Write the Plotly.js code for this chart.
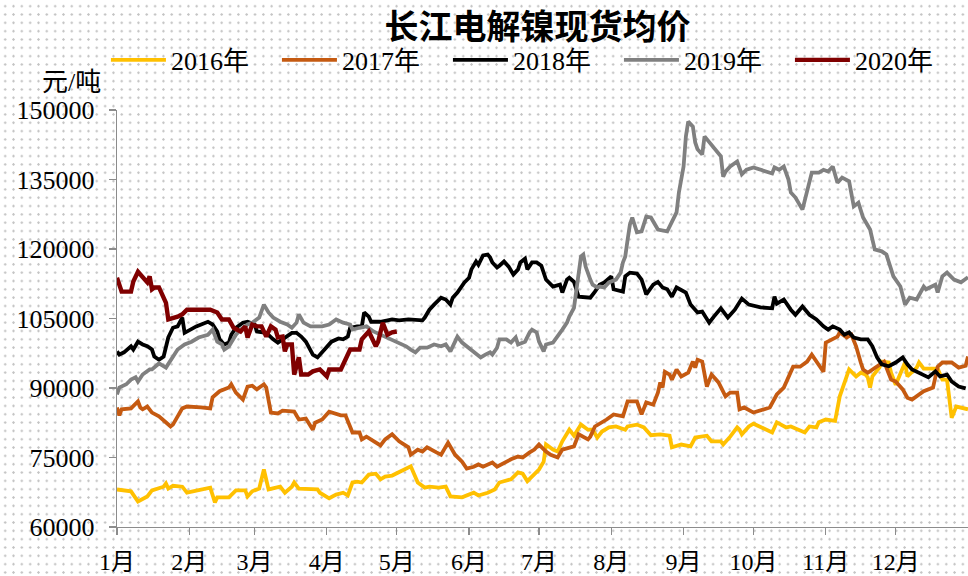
<!DOCTYPE html>
<html>
<head>
<meta charset="utf-8">
<script src="https://cdn.plot.ly/plotly-3.0.1.min.js"></script>
<style>
html,body{margin:0;padding:0;background:#fff;}
#chart{width:968px;height:576px;background-color:#fff;
  background-image:radial-gradient(circle, #c4c4c4 0.9px, rgba(255,255,255,0) 1.4px);
  background-size:8.33px 8.33px;background-position:1px 2px;}
</style>
</head>
<body>
<div id="chart"></div>
<script>
// ---- data (x = day of year, y = 元/吨) ----
const monthLabels = ['1月','2月','3月','4月','5月','6月','7月','8月','9月','10月','11月','12月'];
const monthStartDays = [0,31,59,90,120,151,181,212,243,273,304,334];
const yTicks = [60000,75000,90000,105000,120000,135000,150000];
const seriesNames = ['2016年','2017年','2018年','2019年','2020年'];

const days2016 = [0,5,6,9,13,15,20,21,22,24,28,30,40,42,43,48,51,55,56,58,61,63,65,70,72,75,76,78,83,86,87,91,94,97,99,101,103,105,108,111,113,115,118,126,129,132,134,138,141,143,148,153,155,159,162,164,169,172,174,176,181,183,184,185,187,189,191,194,196,199,202,204,206,208,211,214,218,219,223,226,229,233,237,238,242,246,248,253,255,259,260,263,266,267,268,271,273,281,283,287,289,295,297,300,301,304,308,310,314,317,319,321,322,323,324,327,328,331,332,334,337,338,339,343,344,346,352,354,356,358,360,363,365];
const price2016 = [68100,67700,67700,65500,66600,67900,68700,69400,68300,68900,68700,67400,68500,65300,66400,66400,67900,67900,66600,67700,68300,72400,68100,68700,67400,68700,69600,68300,68300,68100,67400,66200,67000,67400,66800,69600,69800,69600,71300,71500,70300,70900,71100,73100,69600,68500,68700,68500,68700,66600,66400,67400,66800,67400,68100,69600,70300,71800,71500,69900,72400,74100,77800,77400,76700,76300,78500,81000,79700,82100,81000,81000,79300,80600,81500,81700,81000,81700,82100,81500,79800,80000,79700,77200,77800,77400,79300,79700,78500,78500,77800,79500,81500,81000,80000,81700,82300,80400,82600,81500,81700,80400,81700,81500,82600,83200,82900,88200,94000,92500,93300,92900,92300,90100,92500,94400,95700,95500,93300,90700,94000,95500,92500,94400,95500,94200,94200,91800,91800,83600,86000,85600,85400];

const days2017 = [0,1,2,6,9,10,11,13,15,18,23,24,28,30,36,40,41,44,48,49,51,54,56,58,60,63,64,66,69,71,76,78,81,84,85,88,91,96,98,101,104,105,107,110,113,115,118,121,125,126,129,131,133,137,139,142,145,148,150,153,155,157,161,163,166,169,172,174,177,179,181,184,186,189,191,196,198,202,203,205,210,213,217,219,223,225,227,230,232,233,234,235,237,238,240,242,245,247,248,249,251,253,255,258,261,263,266,267,269,273,280,283,286,290,293,296,298,301,303,304,309,310,313,315,317,319,320,322,326,329,332,334,337,339,341,346,350,352,354,358,361,364,365];
const price2017 = [85800,84100,85400,85600,87100,85800,85400,86000,84700,83900,81700,82100,85600,86000,85800,85600,88000,89300,90100,90800,89000,87500,90300,90500,89700,90800,90100,84700,84500,85100,84900,83200,83400,81000,82500,83200,84900,84100,84100,80400,80400,78900,79500,78500,77600,78900,80000,78500,77200,75600,76700,76300,77200,76100,75600,78200,75600,74100,72600,73000,73500,73000,73900,73000,73900,74600,75200,75000,76100,76700,77800,76300,75600,75000,76700,77400,80000,78900,79500,81700,83200,84300,83900,87100,87100,84300,86900,86400,89000,91200,90100,93500,92900,91800,94000,92500,93300,95700,94400,96100,95700,90300,92900,91200,88200,89000,89000,85400,85800,84700,85800,88600,90100,94600,94600,95700,97200,95000,93500,99800,101100,102000,100900,101500,99000,95500,94000,93300,94600,95700,91800,91400,89700,87900,87500,89300,90100,94600,95500,95500,94400,94800,96800];

const days2018 = [0,1,3,6,7,9,11,13,15,16,18,20,22,24,26,28,29,30,34,39,41,43,44,46,48,49,51,54,56,59,60,64,66,67,69,71,75,77,79,81,83,84,86,88,90,92,95,97,99,100,103,105,106,108,109,113,118,121,125,129,131,132,134,136,139,141,143,144,146,149,151,152,154,155,157,159,160,161,163,164,166,168,170,172,173,175,176,178,180,182,184,187,190,191,193,194,196,198,201,203,205,207,209,212,213,217,218,220,223,225,227,230,232,234,236,238,240,244,246,247,249,251,254,256,259,262,265,268,271,276,281,282,283,286,289,291,294,297,300,303,305,307,310,312,314,316,319,322,324,326,328,331,334,337,339,341,345,348,351,353,356,358,361,364];
const price2018 = [97900,97200,97700,99000,98300,100000,99400,99000,98300,96800,96100,96800,100900,103000,103300,105200,101900,102200,103300,104300,103700,102200,100500,99400,99800,101500,103000,104100,104300,103700,102200,101900,100900,100500,99800,100500,101900,101900,101100,100000,98300,97200,96600,97700,99000,100000,100700,100500,101100,103000,103300,103300,106300,105400,104300,104300,104800,104600,104800,104800,104600,105200,106900,108000,109500,109100,108000,109500,110600,112800,113800,115600,117300,116600,118600,118800,118200,117100,116000,116400,117300,116200,114500,115600,117100,117900,115600,117100,117100,116400,113400,111900,112300,110600,113400,113800,112900,109700,109700,109500,110800,112300,112800,114100,111300,110800,114100,114900,114700,113400,110200,112300,112900,111700,111300,109700,111700,110600,108000,107400,106300,106500,104100,105400,107200,105200,106900,109300,108000,107400,107200,109700,108200,109100,106900,105800,107600,105800,104800,103300,102600,103300,102600,101500,102000,100900,100500,100500,99000,96600,95100,94700,95500,96600,95100,94000,92900,92300,93600,92500,92900,91400,90300,89900];

const days2019 = [0,1,4,6,8,9,11,14,15,18,21,24,26,29,32,35,39,41,43,45,46,48,51,53,56,58,61,63,65,67,70,73,75,77,78,80,83,88,91,94,97,100,101,104,107,110,113,116,118,121,124,126,128,130,133,136,139,141,143,145,146,148,150,153,156,158,160,161,163,164,167,169,171,172,175,177,178,180,181,183,184,187,189,191,193,194,196,197,199,200,201,203,204,206,207,209,211,214,216,217,218,219,220,221,223,225,227,229,232,236,238,240,241,243,244,245,247,248,249,251,252,254,256,259,260,261,263,266,268,270,273,276,281,282,284,286,288,289,291,294,296,298,301,303,305,307,309,311,314,316,318,320,323,325,328,330,333,336,338,340,343,346,347,351,352,354,356,359,362,365];
const price2019 = [88600,90100,90800,91800,92300,91400,92900,94000,94000,95300,94400,96600,98300,99400,100000,100900,101500,102600,100000,99400,98300,99000,101500,102600,103700,104100,105200,108000,106300,105200,104300,103700,103000,104100,105900,104100,103300,103300,103700,104800,104100,103700,102600,103000,103300,102200,101500,100900,100500,99800,99000,98300,97700,98700,98700,99400,99000,99400,97900,100000,101100,99800,99000,97900,96600,97200,97700,97200,98700,100500,100500,99800,100900,99400,100000,102000,102600,102000,100000,97900,99400,99800,101100,102600,104100,105400,107300,111200,118400,118800,116200,113400,112300,111700,111900,111700,112800,113400,114900,117100,118400,122000,125300,126800,123600,123800,127000,126800,124200,123800,125700,127900,132200,137800,144300,147500,146400,143000,141500,140400,144300,143000,141900,140000,135600,136700,137800,138900,136100,137100,137600,137100,136300,137600,137100,137800,135000,132200,131100,128500,132800,136500,136500,137100,136700,137800,134300,135400,134600,129200,130000,126800,124200,119900,119500,118800,114100,111900,108000,109500,109100,111900,111300,112300,110600,114100,114900,113400,112800,113900];

const days2020 = [0,2,6,7,9,11,13,14,15,16,18,21,22,26,28,30,34,40,43,45,48,50,53,55,56,58,60,62,64,66,68,69,71,72,73,75,76,78,79,82,84,87,90,91,96,98,100,104,105,108,111,112,114,116,118,120];
const price2020 = [113800,110800,110800,113000,115100,114100,112800,114100,111300,111700,111700,108400,104800,105400,105900,106900,106900,106900,106300,104800,104800,103000,102200,103300,100900,103700,103300,103300,101100,103300,102600,100900,101100,97900,99400,99400,92900,96600,92900,92900,93600,94000,92500,94000,94000,96100,98300,98300,100500,102200,99000,100000,104100,101500,102000,102200];

// ---- styles ----
const serif = '"Liberation Serif", "Noto Sans CJK SC", serif';
const axisGray = '#8c8c8c';
const seriesX = [days2016, days2017, days2018, days2019, days2020];
const seriesY = [price2016, price2017, price2018, price2019, price2020];
const colors = ['#FFC000', '#C55A11', '#000000', '#808080', '#800000'];
const widths = [3.8, 3.8, 3.8, 3.8, 4.4];

const traces = seriesNames.map((name, i) => ({
  type: 'scatter', mode: 'lines', name: name,
  x: seriesX[i], y: seriesY[i],
  line: {color: colors[i], width: widths[i], shape: 'linear'},
  hoverinfo: 'skip'
}));

const layout = {
  width: 968, height: 576,
  margin: {l: 117, r: 0, t: 110, b: 49, pad: 0},
  paper_bgcolor: 'rgba(0,0,0,0)',
  plot_bgcolor: 'rgba(0,0,0,0)',
  font: {family: serif, color: '#000', size: 24},
  title: {
    text: '长江电解镍现货均价',
    font: {family: '"Noto Sans CJK SC", sans-serif', size: 34, weight: 700, color: '#000'},
    xref: 'paper', x: 0.494, xanchor: 'center',
    yref: 'container', y: 0.953, yanchor: 'middle'
  },
  showlegend: true,
  legend: {
    orientation: 'h', x: -0.013, xanchor: 'left',
    y: 1.12, yanchor: 'middle',
    font: {family: serif, size: 26, color: '#000'},
    itemwidth: 55, entrywidth: 101, entrywidthmode: 'pixels',
    bgcolor: 'rgba(0,0,0,0)', borderwidth: 0, traceorder: 'normal'
  },
  xaxis: {
    range: [0, 365], tickmode: 'array', tickvals: monthStartDays, ticktext: monthLabels,
    ticks: 'outside', ticklen: 7, tickwidth: 1.3, tickcolor: axisGray,
    showline: true, linecolor: axisGray, linewidth: 1.3,
    showgrid: false, zeroline: false, fixedrange: true,
    tickfont: {family: serif, size: 24, color: '#000'},
    ticklabelstandoff: 6
  },
  yaxis: {
    range: [60000, 150000], tickmode: 'array', tickvals: yTicks,
    tickformat: 'd',
    ticks: 'outside', ticklen: 7, tickwidth: 1.3, tickcolor: axisGray,
    showline: true, linecolor: axisGray, linewidth: 1.3,
    showgrid: false, zeroline: false, fixedrange: true,
    tickfont: {family: serif, size: 26, color: '#000'},
    ticklabelstandoff: 9
  },
  annotations: [{
    text: '元/吨', xref: 'paper', yref: 'paper',
    x: -0.053, y: 1.067, xanchor: 'center', yanchor: 'middle',
    showarrow: false, font: {family: serif, size: 26, color: '#000'}
  }]
};

Plotly.newPlot('chart', traces, layout, {staticPlot: true, displayModeBar: false});
</script>
</body>
</html>
